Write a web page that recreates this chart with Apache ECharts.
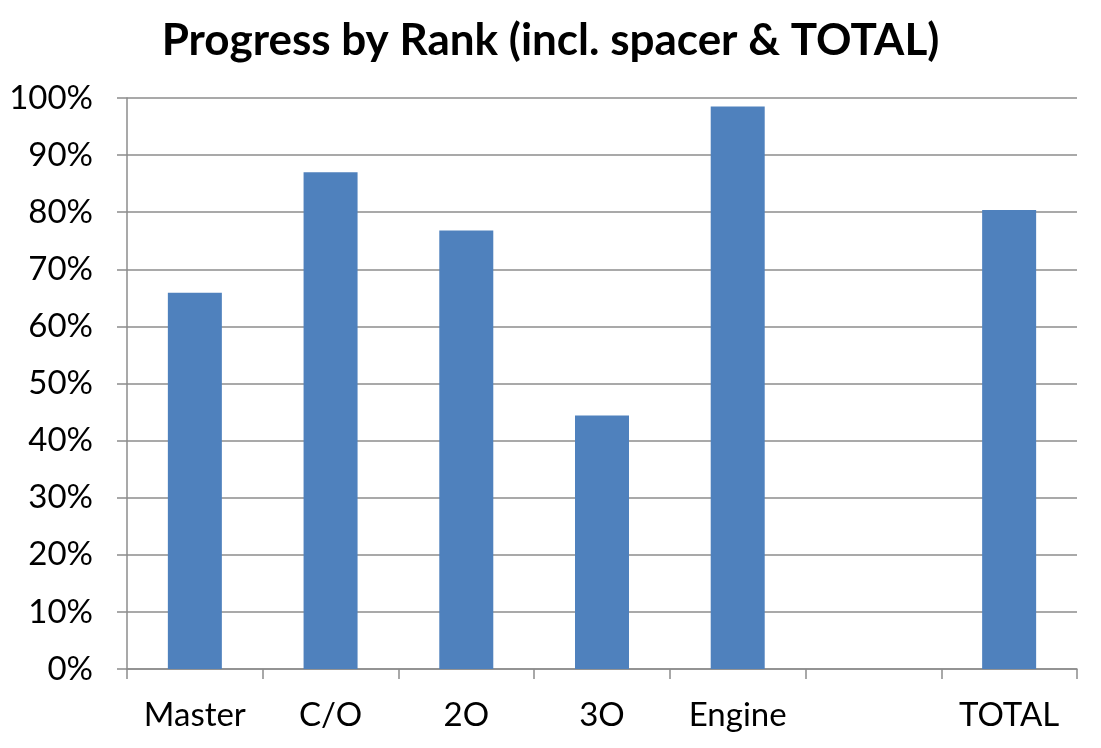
<!DOCTYPE html>
<html>
<head>
<meta charset="utf-8">
<script src="https://cdn.jsdelivr.net/npm/echarts@6/dist/echarts.min.js"></script>
<style>
  html, body { margin: 0; padding: 0; background: #fff; }
  #chart { width: 1101px; height: 748px; }
</style>
</head>
<body>
<div id="chart"></div>
<script>
const titleText = 'Progress by Rank (incl. spacer & TOTAL)';
const categories = ['Master', 'C/O', '2O', '3O', 'Engine', '', 'TOTAL'];
const progress = [65.9, 87.0, 76.8, 44.4, 98.5, null, 80.4];
const yTicks = { min: 0, max: 100, interval: 10 };

const chart = echarts.init(document.getElementById('chart'));
const lineColor = '#8c8c8c';
chart.setOption({
  animation: false,
  backgroundColor: '#ffffff',
  title: {
    text: titleText,
    left: 'center',
    top: 14,
    textStyle: { fontFamily: 'Lato', fontWeight: 'bold', fontSize: 44, color: '#000' }
  },
  grid: { left: 127, right: 24, top: 98, bottom: 79, containLabel: false },
  xAxis: {
    type: 'category',
    data: categories,
    axisLine: { lineStyle: { color: lineColor, width: 1.5 } },
    axisTick: { show: true, length: 10, lineStyle: { color: lineColor, width: 1.5 } },
    axisLabel: { margin: 30, fontFamily: 'Lato', fontSize: 33, color: '#000' }
  },
  yAxis: {
    type: 'value',
    min: yTicks.min,
    max: yTicks.max,
    interval: yTicks.interval,
    axisLine: { show: true, lineStyle: { color: lineColor, width: 1.5 } },
    axisTick: { show: true, length: 10, lineStyle: { color: lineColor, width: 1.5 } },
    splitLine: { show: true, lineStyle: { color: lineColor, width: 1.5 } },
    axisLabel: { margin: 34, fontFamily: 'Lato', fontSize: 33, color: '#000', formatter: '{value}%' }
  },
  series: [{
    type: 'bar',
    data: progress,
    barWidth: 54,
    itemStyle: { color: '#4F81BD' }
  }]
});
</script>
</body>
</html>
